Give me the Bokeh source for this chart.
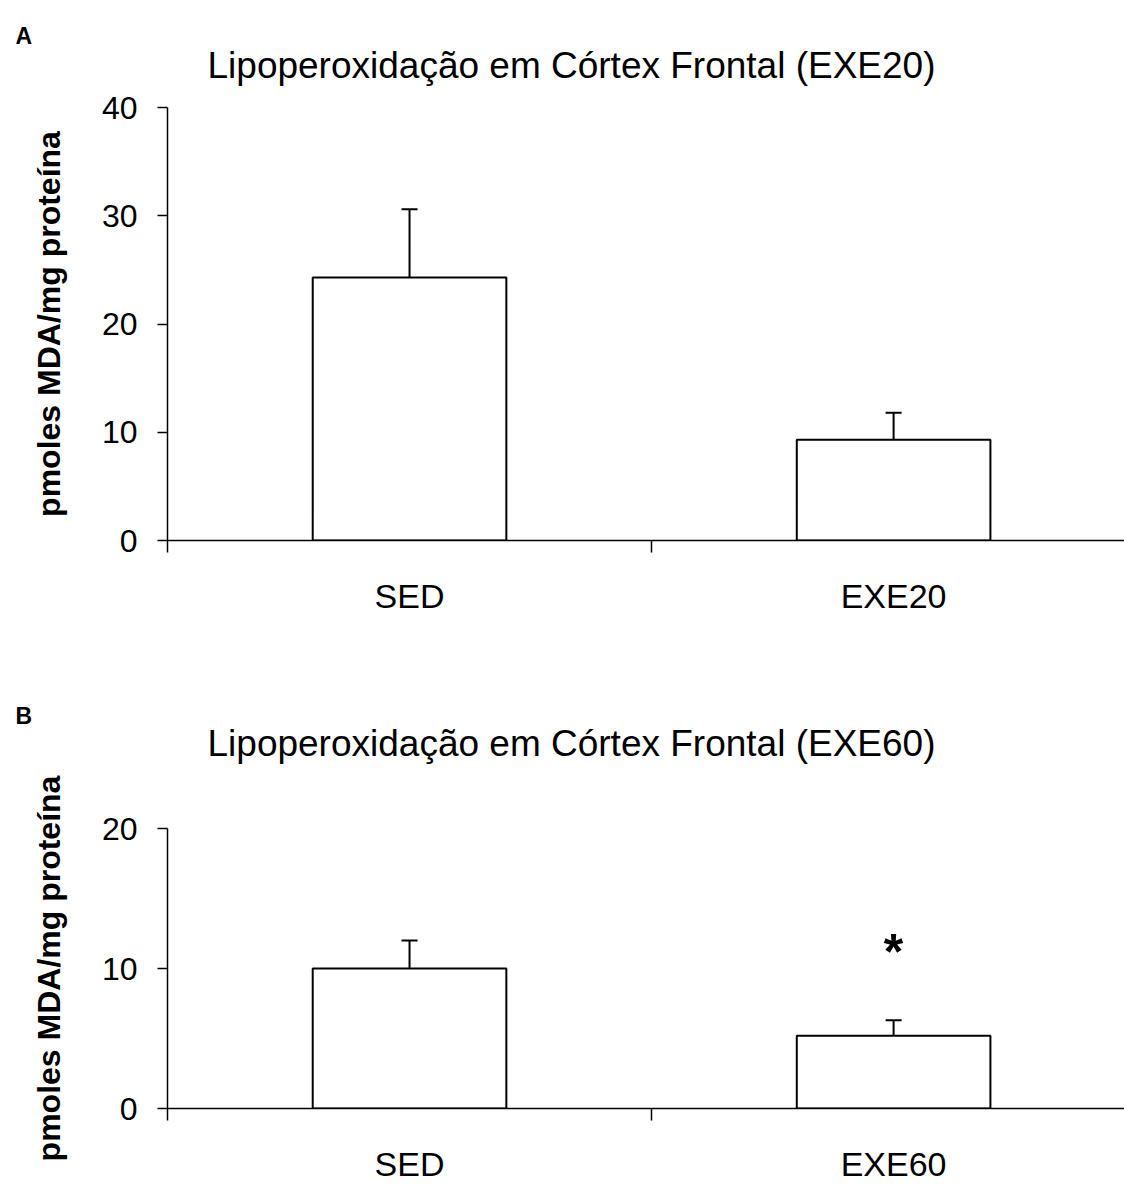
from bokeh.plotting import figure
from bokeh.layouts import column
from bokeh.models import Range1d, FixedTicker, ColumnDataSource, Whisker, TeeHead
from bokeh.core.properties import value
from bokeh.embed import file_html
from bokeh.resources import INLINE

FONT = "Liberation Sans"

# ---- data ----
ylabel = "pmoles MDA/mg proteína"

letter_a = "A"
title_a = "Lipoperoxidação em Córtex Frontal (EXE20)"
groups_a = ["SED", "EXE20"]
mean_a = [24.3, 9.3]
sem_a = [6.3, 2.5]
yticks_a = [0, 10, 20, 30, 40]
star_a = [None, None]

letter_b = "B"
title_b = "Lipoperoxidação em Córtex Frontal (EXE60)"
groups_b = ["SED", "EXE60"]
mean_b = [10.0, 5.2]
sem_b = [2.0, 1.1]
yticks_b = [0, 10, 20]
star_b = [None, 11.2]

W = 1124


def header(letter, title_text, height, letter_base, title_base):
    """Strip holding the panel letter and the panel title (pixel coordinates)."""
    h = figure(width=W, height=height, x_range=Range1d(0, W), y_range=Range1d(height, 0),
               output_backend="svg", toolbar_location=None, title=None,
               x_axis_location=None, y_axis_location=None,
               min_border=0, frame_align=False)
    h.outline_line_color = None
    h.xgrid.visible = False
    h.ygrid.visible = False
    h.text(x=[15], y=[letter_base], text=[letter], text_font=value(FONT),
           text_font_style="bold", text_font_size="23px",
           text_baseline="alphabetic", text_align="left", text_color="black")
    h.text(x=[207], y=[title_base], text=[title_text], text_font=value(FONT),
           text_font_style="normal", text_font_size="37px",
           text_baseline="alphabetic", text_align="left", text_color="black")
    return h


def panel(groups, means, sems, yticks, stars, height, border_top, border_bottom):
    xs = [i + 0.5 for i in range(len(groups))]
    upper = [m + s for m, s in zip(means, sems)]
    p = figure(width=W, height=height, title=None,
               x_range=Range1d(0, 1.977), y_range=Range1d(0, yticks[-1]),
               output_backend="svg", toolbar_location=None, frame_align=False,
               min_border_left=167, min_border_right=0,
               min_border_top=border_top, min_border_bottom=border_bottom)
    p.outline_line_color = None
    p.xgrid.visible = False
    p.ygrid.visible = False

    # y axis
    ya = p.yaxis[0]
    ya.ticker = FixedTicker(ticks=yticks)
    ya.major_tick_out = 10
    ya.major_tick_in = 0
    ya.minor_tick_out = 0
    ya.minor_tick_in = 0
    ya.major_tick_line_color = "black"
    ya.major_tick_line_width = 1.5
    ya.axis_line_color = "black"
    ya.axis_line_width = 1.5
    ya.major_label_standoff = 20
    ya.major_label_text_font = FONT
    ya.major_label_text_font_size = "32px"
    ya.major_label_text_color = "black"
    ya.axis_label = ylabel
    ya.axis_label_text_font = FONT
    ya.axis_label_text_font_size = "32px"
    ya.axis_label_text_font_style = "bold"
    ya.axis_label_text_color = "black"
    ya.axis_label_standoff = 32

    # x axis: labels at bar centres, ticks at group boundaries
    xa = p.xaxis[0]
    xa.ticker = FixedTicker(ticks=xs, minor_ticks=list(range(len(groups) + 1)))
    xa.major_label_overrides = {x: g for x, g in zip(xs, groups)}
    xa.major_tick_out = 0
    xa.major_tick_in = 0
    xa.minor_tick_out = 12
    xa.minor_tick_in = 0
    xa.minor_tick_line_color = "black"
    xa.minor_tick_line_width = 1.5
    xa.axis_line_color = "black"
    xa.axis_line_width = 1.5
    xa.major_label_standoff = 24
    xa.major_label_text_font = FONT
    xa.major_label_text_font_size = "34px"
    xa.major_label_text_color = "black"

    # bars
    p.vbar(x=xs, top=means, bottom=0, width=0.4, fill_color="white",
           line_color="black", line_width=2)

    # error bars (upper only)
    src = ColumnDataSource(dict(x=xs, mean=means, upper=upper))
    p.add_layout(Whisker(source=src, base="x", lower="mean", upper="upper",
                         line_color="black", line_width=2,
                         upper_head=TeeHead(size=16, line_width=2, line_color="black"),
                         lower_head=None))

    # significance markers
    sx = [x for x, s in zip(xs, stars) if s is not None]
    sy = [s for s in stars if s is not None]
    if sx:
        p.text(x=sx, y=sy, text=["*"] * len(sx), text_font=value(FONT),
               text_font_style="bold", text_font_size="50px",
               text_align="center", text_baseline="middle", text_color="black")
    return p


h1 = header(letter_a, title_a, height=89, letter_base=35, title_base=65)
p1 = panel(groups_a, mean_a, sem_a, yticks_a, star_a,
           height=561, border_top=18, border_bottom=110)
h2 = header(letter_b, title_b, height=120, letter_base=65, title_base=93)
p2 = panel(groups_b, mean_b, sem_b, yticks_b, star_b,
           height=415, border_top=58, border_bottom=77)

layout = column(h1, p1, h2, p2, spacing=0)
open("out.html", "w").write(file_html(layout, INLINE))
